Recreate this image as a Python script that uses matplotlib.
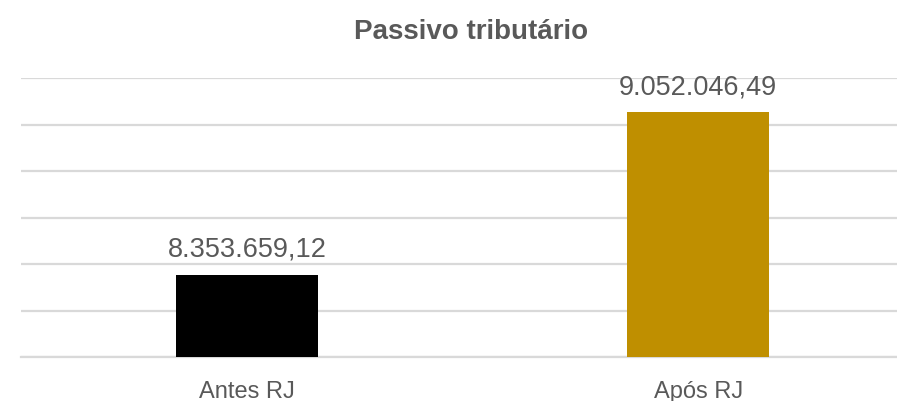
import matplotlib.pyplot as plt
from matplotlib.ticker import MultipleLocator

# --- Dados ---
categorias = ['Antes RJ', 'Após RJ']
valores = [8353659.12, 9052046.49]
rotulos = ['8.353.659,12', '9.052.046,49']
cores = ['#000000', '#BF8F00']

plt.rcParams['font.family'] = ['Liberation Sans', 'DejaVu Sans']
cinza = '#595959'

fig = plt.figure(figsize=(8.97, 4.01), dpi=100)
ax = fig.add_axes([21 / 897, 44 / 401, 876 / 897, 279 / 401])

# barras (eixo começa em 8 milhões, como no original)
base = 8000000
x = range(len(categorias))
alturas = [v - base for v in valores]
barras = ax.bar(x, alturas, bottom=base, width=0.315, color=cores, zorder=3)

for b, txt in zip(barras, rotulos):
    ax.annotate(txt, (b.get_x() + b.get_width() / 2, b.get_y() + b.get_height()),
                xytext=(0, 13), textcoords='offset points',
                ha='center', va='baseline', fontsize=19.5, color=cinza)

# --- Formato ---
ax.set_xlim(-0.501, 1.441)
ax.set_ylim(base, 9200000)
ax.yaxis.set_major_locator(MultipleLocator(200000))
ax.set_yticklabels([])
ax.grid(axis='y', color='#D9D9D9', linewidth=1.6, zorder=0)

ax.set_xticks(list(x))
ax.set_xticklabels(categorias, fontsize=17, color=cinza)
ax.tick_params(axis='both', length=0)
ax.tick_params(axis='x', pad=17)

for lado in ['top', 'right', 'left']:
    ax.spines[lado].set_visible(False)
ax.spines['bottom'].set_color('#D9D9D9')
ax.spines['bottom'].set_linewidth(1.6)

fig.text(471.5 / 897, (401 - 39) / 401, 'Passivo tributário', ha='center',
         va='baseline', fontsize=20, fontweight='bold', color=cinza)

fig.savefig('out.png', dpi=100)
